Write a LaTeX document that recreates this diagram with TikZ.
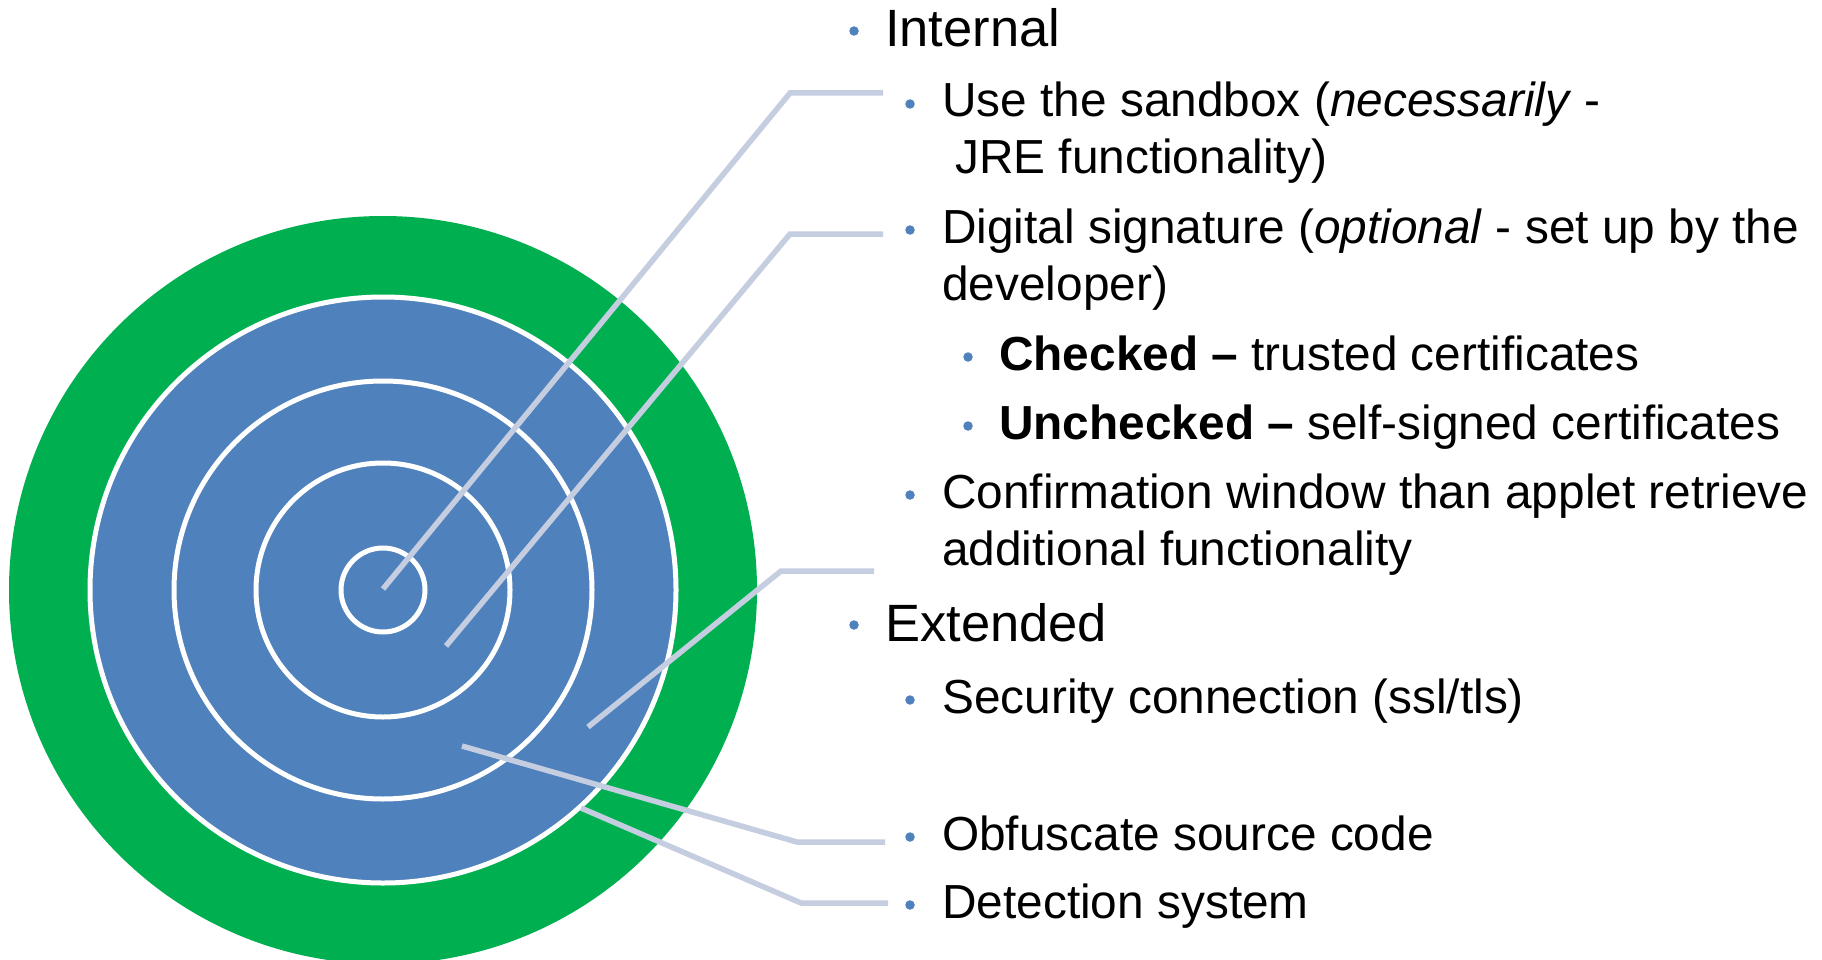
\documentclass[tikz,border=0pt]{standalone}
\usepackage{fontspec}
\setmainfont{Liberation Sans}
\definecolor{tgreen}{HTML}{00AF50}
\definecolor{tblue}{HTML}{4F81BD}
\definecolor{conncol}{HTML}{C5CEE0}
\definecolor{dotcol}{HTML}{4F81BD}
\tikzset{
  ring/.style={draw=white, line width=5pt},
  conn/.style={draw=conncol, line width=5.5pt},
  txtA/.style={anchor=base west, inner sep=0pt, font=\fontsize{52.5}{62}\selectfont},
  txtB/.style={anchor=base west, inner sep=0pt, font=\fontsize{47.8}{57}\selectfont},
  dot/.style={circle, fill=dotcol, inner sep=0pt, minimum size=9.5pt},
}
\begin{document}
\begin{tikzpicture}[x=1pt,y=-1pt]
\useasboundingbox (0,0) rectangle (1822,960);
\clip (0,0) rectangle (1822,960);
\fill[white] (0,0) rectangle (1822,960);
% target
\coordinate (ctr) at (383,590);
\fill[tgreen] (ctr) circle (374pt);
\fill[tblue] (ctr) circle (293pt);
\draw[ring] (ctr) circle (293pt);
\draw[ring] (ctr) circle (209pt);
\draw[ring] (ctr) circle (127pt);
\draw[ring] (ctr) circle (42pt);
% text
\node[txtA] (internal) at (885,47) {Internal};
\node[txtB] (use1) at (942,117) {Use the sandbox (\textit{necessarily} -};
\node[txtB] (use2) at (955,174) {JRE functionality)};
\node[txtB] (dig1) at (942,243) {Digital signature (\textit{optional} - set up by the};
\node[txtB] (dig2) at (942,300) {developer)};
\node[txtB] (chk) at (999,370) {\textbf{Checked –} trusted certificates};
\node[txtB] (unchk) at (999,439) {\textbf{Unchecked –} self-signed certificates};
\node[txtB] (conf1) at (942,508) {Confirmation window than applet retrieve};
\node[txtB] (conf2) at (942,565) {additional functionality};
\node[txtA] (ext) at (885,641) {Extended};
\node[txtB] (sec) at (942,713) {Security connection (ssl/tls)};
\node[txtB] (obf) at (942,850) {Obfuscate source code};
\node[txtB] (det) at (942,918) {Detection system};
% bullets
\node[dot] (bInternal) at (854,31) {};
\node[dot] (bUse) at (910,104) {};
\node[dot] (bDig) at (910,230) {};
\node[dot] (bChk) at (968,357) {};
\node[dot] (bUnchk) at (968,426) {};
\node[dot] (bConf) at (910,495) {};
\node[dot] (bExt) at (854,625) {};
\node[dot] (bSec) at (910,700) {};
\node[dot] (bObf) at (910,837) {};
\node[dot] (bDet) at (910,905) {};
% connectors
\coordinate (s1) at (383,589);
\coordinate (m1) at (790,93);
\coordinate (e1) at (883,93);
\coordinate (s2) at (446,646);
\coordinate (m2) at (790,234);
\coordinate (e2) at (883,234);
\coordinate (s3) at (588,727);
\coordinate (m3) at (781,571);
\coordinate (e3) at (874,571);
\coordinate (s4) at (462,746);
\coordinate (m4) at (797,842);
\coordinate (e4) at (885,842);
\coordinate (s5) at (581,808);
\coordinate (m5) at (801,903);
\coordinate (e5) at (888,903);
\draw[conn] (s1) -- (m1) -- (e1);
\draw[conn] (s2) -- (m2) -- (e2);
\draw[conn] (s3) -- (m3) -- (e3);
\draw[conn] (s4) -- (m4) -- (e4);
\draw[conn] (s5) -- (m5) -- (e5);
\end{tikzpicture}
\end{document}
